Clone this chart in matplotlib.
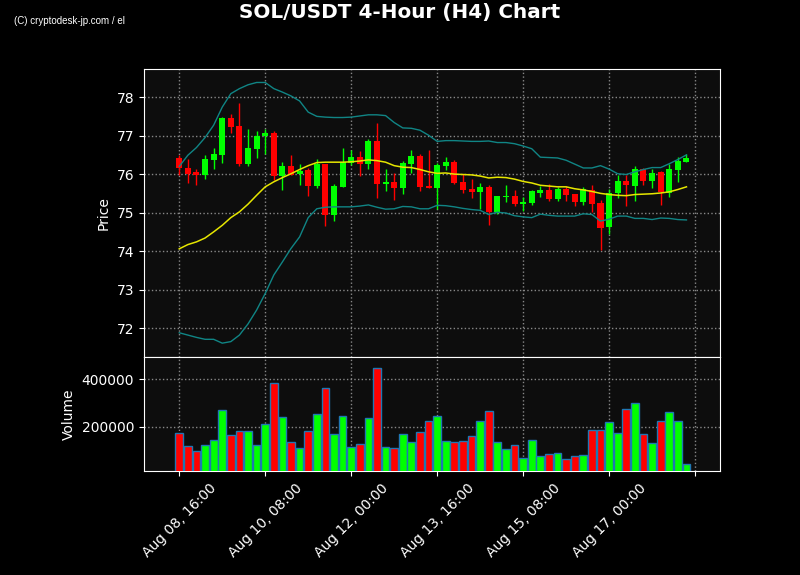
import pandas as pd
import matplotlib.pyplot as plt

# SOL/USDT H4 candles
opens = [76.41, 76.17, 76.05, 75.98, 76.37, 76.50, 77.45, 77.24, 76.26, 76.65,
         76.99, 77.06, 75.95, 76.20, 76.00, 76.10, 75.68, 76.25, 74.94, 75.66,
         76.30, 76.44, 76.26, 76.85, 75.74, 75.79, 75.63, 76.26, 76.46, 75.68,
         75.64, 76.20, 76.31, 75.79, 75.61, 75.53, 75.66, 75.02, 75.40, 75.42,
         75.22, 75.24, 75.50, 75.58, 75.35, 75.61, 75.48, 75.28, 75.58, 75.24,
         74.63, 75.51, 75.81, 75.69, 76.12, 75.82, 76.05, 75.52, 76.11, 76.31]
highs = [76.50, 76.38, 76.12, 76.50, 76.67, 77.48, 77.57, 77.85, 77.18, 77.13,
         77.18, 77.13, 76.31, 76.50, 76.25, 76.17, 76.38, 76.27, 75.74, 76.69,
         76.62, 76.59, 76.92, 77.33, 76.12, 76.04, 76.35, 76.63, 76.51, 76.62,
         76.30, 76.45, 76.36, 76.01, 75.88, 75.78, 75.73, 75.42, 75.73, 75.60,
         75.41, 75.59, 75.68, 75.75, 75.67, 75.69, 75.49, 75.67, 75.73, 75.33,
         75.61, 75.99, 75.97, 76.22, 76.17, 76.12, 76.09, 76.26, 76.44, 76.53]
lows = [75.99, 75.78, 75.73, 75.88, 76.12, 76.30, 77.08, 76.22, 76.21, 76.43,
        76.52, 75.84, 75.60, 75.97, 75.73, 75.42, 75.64, 74.65, 74.79, 75.66,
        76.23, 75.96, 76.14, 75.39, 75.56, 75.32, 75.49, 76.04, 75.56, 75.64,
        75.10, 76.10, 75.75, 75.52, 75.37, 75.09, 74.69, 74.97, 75.28, 75.17,
        75.04, 75.20, 75.41, 75.30, 75.29, 75.29, 75.18, 75.21, 75.02, 74.04,
        74.44, 75.37, 75.18, 75.29, 75.71, 75.65, 75.21, 75.41, 75.80, 76.31]
closes = [76.16, 76.00, 75.97, 76.38, 76.51, 77.45, 77.22, 76.26, 76.67, 77.00,
          77.06, 75.95, 76.20, 75.98, 76.09, 75.69, 76.25, 74.94, 75.68, 76.31,
          76.44, 76.26, 76.85, 75.74, 75.79, 75.63, 76.28, 76.46, 75.67, 75.64,
          76.23, 76.31, 75.76, 75.59, 75.54, 75.66, 75.01, 75.42, 75.43, 75.22,
          75.28, 75.55, 75.58, 75.36, 75.61, 75.45, 75.28, 75.62, 75.22, 74.60,
          75.52, 75.81, 75.71, 76.12, 75.82, 76.04, 75.54, 76.12, 76.33, 76.43]
volumes = [175000, 119400, 100000, 125000, 145800, 270800, 166700, 183300, 183300, 123600,
           212500, 383300, 241700, 137500, 112500, 183300, 254200, 362500, 170800, 245800,
           116700, 129200, 237500, 450000, 116700, 112500, 170800, 137500, 179200, 225000,
           245800, 141700, 137500, 141700, 162500, 225000, 266700, 137500, 108300, 125000,
           70800, 145800, 77800, 86100, 91700, 62500, 77800, 83300, 187500, 187500,
           220800, 175000, 275000, 300000, 170800, 133300, 225000, 262500, 225000, 41700]

# Bollinger bands (20, 2) as drawn
bb_mid = [74.06, 74.17, 74.24, 74.34, 74.50, 74.67, 74.87, 75.02, 75.22, 75.45,
          75.67, 75.80, 75.91, 76.01, 76.12, 76.22, 76.30, 76.31, 76.31, 76.31,
          76.32, 76.34, 76.37, 76.35, 76.31, 76.22, 76.18, 76.17, 76.12, 76.06,
          76.02, 76.03, 76.00, 75.99, 75.98, 75.95, 75.90, 75.92, 75.91, 75.87,
          75.81, 75.77, 75.71, 75.69, 75.67, 75.67, 75.62, 75.59, 75.55, 75.50,
          75.47, 75.45, 75.44, 75.47, 75.48, 75.49, 75.51, 75.54, 75.60, 75.67]
bb_upper = [76.20, 76.49, 76.69, 76.95, 77.27, 77.74, 78.09, 78.22, 78.32, 78.38,
            78.38, 78.22, 78.13, 78.03, 77.90, 77.61, 77.50, 77.48, 77.47, 77.47,
            77.48, 77.51, 77.54, 77.54, 77.52, 77.34, 77.20, 77.19, 77.14, 77.01,
            76.85, 76.87, 76.87, 76.86, 76.85, 76.85, 76.86, 76.82, 76.82, 76.79,
            76.73, 76.66, 76.44, 76.43, 76.42, 76.36, 76.26, 76.16, 76.16, 76.22,
            76.13, 76.01, 75.99, 76.06, 76.12, 76.17, 76.17, 76.27, 76.38, 76.50]
bb_lower = [71.88, 71.82, 71.76, 71.71, 71.71, 71.61, 71.65, 71.82, 72.11, 72.47,
            72.90, 73.38, 73.72, 74.07, 74.37, 74.87, 75.10, 75.14, 75.15, 75.15,
            75.15, 75.17, 75.20, 75.14, 75.09, 75.10, 75.16, 75.15, 75.10, 75.10,
            75.19, 75.18, 75.15, 75.11, 75.08, 75.06, 74.95, 75.01, 74.99, 74.92,
            74.89, 74.87, 74.96, 74.93, 74.91, 74.91, 74.91, 74.97, 74.95, 74.78,
            74.83, 74.91, 74.91, 74.85, 74.85, 74.82, 74.86, 74.85, 74.82, 74.81]

times = pd.date_range("2025-08-08 16:00", periods=len(opens), freq="4h")

df = pd.DataFrame({"open": opens, "high": highs, "low": lows, "close": closes,
                   "volume": volumes, "mid": bb_mid, "upper": bb_upper, "lower": bb_lower},
                  index=times)
x = list(range(len(df)))
up = df["close"] >= df["open"]
colors = ["#00ff00" if u else "#ff0000" for u in up]

fig = plt.figure(figsize=(8, 5.75), dpi=100, facecolor="black")
ax = fig.add_axes([0.18, 0.3791, 0.72, 0.5009])
axv = fig.add_axes([0.18, 0.1809, 0.72, 0.1983], sharex=ax)

for a in (ax, axv):
    a.set_facecolor("#0d0d0d")
    for s in a.spines.values():
        s.set_color("white")
    a.tick_params(colors="white", labelsize=10)
    a.grid(True, color="#888888", linestyle=":", linewidth=1)
    a.set_axisbelow(True)

# candles
ax.vlines(x, df["low"], df["high"], colors=colors, linewidth=1, zorder=2)
body_bottom = df[["open", "close"]].min(axis=1)
body_height = (df["close"] - df["open"]).abs()
ax.bar(x, body_height, bottom=body_bottom, width=0.7, color=colors, zorder=3)

ax.plot(x, df["upper"], color="#108585", linewidth=1, zorder=4)
ax.plot(x, df["lower"], color="#108585", linewidth=1, zorder=4)
ax.plot(x, df["mid"], color="#e6e600", linewidth=1.1, zorder=4)

ax.set_ylim(71.25, 78.73)
ax.set_ylabel("Price", color="white", fontsize=10)
plt.setp(ax.get_xticklabels(), visible=False)

# volume
axv.bar(x, df["volume"], width=0.9, color=colors, edgecolor="#1f77b4", linewidth=1, zorder=3)
axv.set_ylim(14000, 495000)
axv.set_yticks([200000, 400000])
axv.set_ylabel("Volume", color="white", fontsize=10)

ticks = list(range(0, len(df) + 1, 10))
labels = [times[i].strftime("%b %d, %H:%M") if i < len(df) else "" for i in ticks]
axv.set_xticks(ticks)
axv.set_xticklabels(labels, rotation=45)
axv.set_xlim(-4.1, 62.9)

fig.text(0.5, 0.995, "SOL/USDT 4-Hour (H4) Chart", color="white", fontsize=14.4,
         fontweight="bold", ha="center", va="top")
fig.text(0.018, 0.963, "(C) cryptodesk-jp.com / el", color="white", fontsize=7,
         family=["Liberation Sans", "DejaVu Sans"], ha="left", va="center")

fig.savefig("out.png", facecolor="black")
